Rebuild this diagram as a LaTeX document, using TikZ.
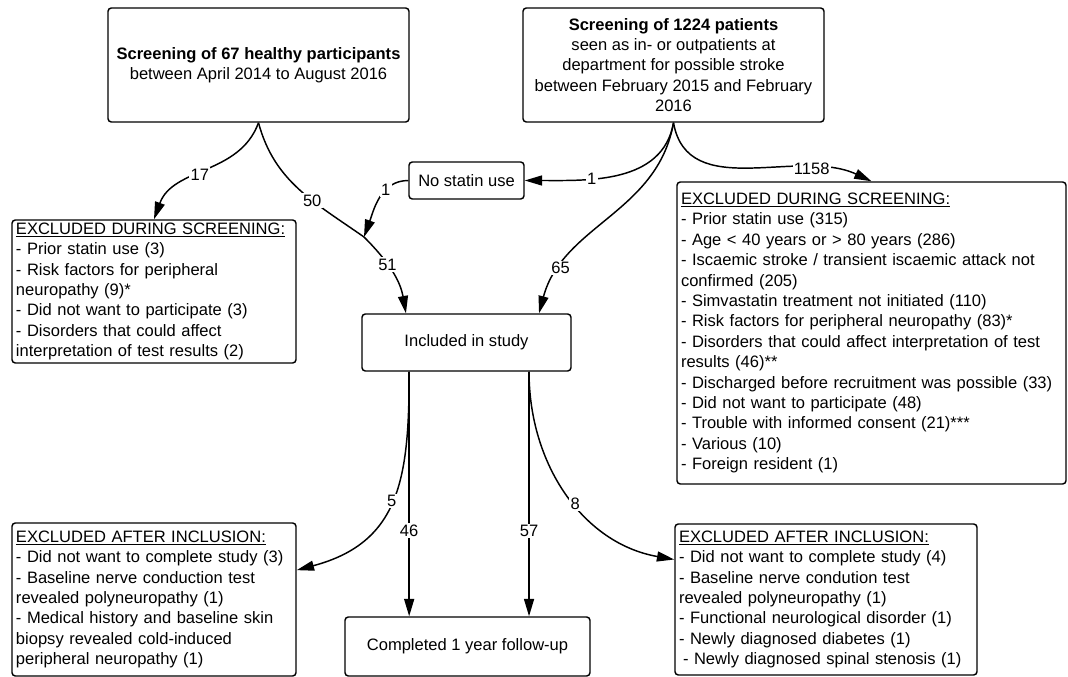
\documentclass[tikz,border=0pt]{standalone}
\usepackage{fontspec}
\setmainfont{Liberation Sans}
\usetikzlibrary{arrows.meta}

\tikzset{
	box/.style={draw, line width=1.1pt, rounded corners=2.5pt, inner sep=0pt, align=center},
	listbox/.style={box, align=left, inner xsep=3pt},
	lbl/.style={fill=white, inner sep=1pt},
	link/.style={line width=1.1pt},
	arr/.style={line width=1.1pt, -{Triangle[length=13pt,width=7.5pt]}},
}

\begin{document}
\begin{tikzpicture}[x=0.75pt, y=0.75pt, font=\fontsize{12.4}{15.3}\selectfont]
			%%%%% START %%%%%
			\useasboundingbox (0,0) rectangle (1068,-677);
			
			\node[box, minimum width=225.75pt, minimum height=85.5pt] (scrH) at (258.5,-65) {\textbf{Screening of 67 healthy participants}\\between April 2014 to August 2016};
			\node[box, minimum width=225.75pt, minimum height=85.5pt] (scrP) at (673.5,-65) {\textbf{Screening of 1224 patients}\\seen as in- or outpatients at\\department for possible stroke\\between February 2015 and February\\2016};
			
			\node[box, minimum width=86.25pt, minimum height=27.75pt] (nostat) at (466.5,-180.5) {No statin use};
			
			\node[listbox, text width=207pt, minimum height=107.25pt] (exH) at (154,-291.5) {\underline{EXCLUDED DURING SCREENING:}\\
				- Prior statin use (3)\\
				- Risk factors for peripheral\\
				neuropathy (9)*\\
				- Did not want to participate (3)\\
				- Disorders that could affect\\
				interpretation of test results (2)};
			
			\node[listbox, text width=285.75pt, minimum height=226.5pt] (exP) at (871.5,-333) {\underline{EXCLUDED DURING SCREENING:}\\
				- Prior statin use (315)\\
				- Age < 40 years or > 80 years (286)\\
				- Iscaemic stroke / transient iscaemic attack not\\
				confirmed (205)\\
				- Simvastatin treatment not initiated (110)\\
				- Risk factors for peripheral neuropathy (83)*\\
				- Disorders that could affect interpretation of test\\
				results (46)**\\
				- Discharged before recruitment was possible (33)\\
				- Did not want to participate (48)\\
				- Trouble with informed consent (21)***\\
				- Various (10)\\
				- Foreign resident (1)};
			
			\node[box, minimum width=156.75pt, minimum height=42.75pt] (incl) at (466.5,-342.5) {Included in study};
			\node[box, minimum width=183.75pt, minimum height=44.25pt] (compl) at (467.5,-646.5) {Completed 1 year follow-up};
			
			\node[listbox, text width=207pt, minimum height=114.75pt] (exAH) at (154,-599.5) {\underline{EXCLUDED AFTER INCLUSION:}\\
				- Did not want to complete study (3)\\
				- Baseline nerve conduction test\\
				revealed polyneuropathy (1)\\
				- Medical history and baseline skin\\
				biopsy revealed cold-induced\\
				peripheral neuropathy (1)};
			\node[listbox, text width=220.5pt, minimum height=113.25pt] (exAP) at (826,-599.5) {\underline{EXCLUDED AFTER INCLUSION:}\\
				- Did not want to complete study (4)\\
				- Baseline nerve condution test\\
				revealed polyneuropathy (1)\\
				- Functional neurological disorder (1)\\
				- Newly diagnosed diabetes (1)\\
				\hspace*{3pt}- Newly diagnosed spinal stenosis (1)};
			
			\coordinate (merge) at (364,-237);
			
			\draw[arr] (scrH.south) to[out=-110,in=70] node[lbl,pos=0.55]{17} (exH.north);
			\draw[link] (scrH.south) to[out=-75,in=145] node[lbl,pos=0.62]{50} (merge);
			\draw[arr] (nostat.west) to[out=180,in=70] node[lbl,pos=0.35]{1} (merge);
			\draw[arr] (merge) to[out=-45,in=100] node[lbl,pos=0.4]{51} ([xshift=-45.4pt]incl.north);
			
			\draw[arr] (scrP.south) to[out=-100,in=0] node[lbl,pos=0.65]{1} (nostat.east);
			\draw[arr] (scrP.south) to[out=-100,in=75] node[lbl,pos=0.8]{65} ([xshift=54.4pt]incl.north);
			\draw[arr] (scrP.south) to[out=-80,in=155] node[lbl,pos=0.75]{1158} (exP.north);
			
			\draw[arr] ([xshift=-43pt]incl.south) -- node[lbl,pos=0.65]{46} ([xshift=-43pt]incl.south |- compl.north);
			\draw[arr] ([xshift=46.9pt]incl.south) -- node[lbl,pos=0.65]{57} ([xshift=46.9pt]incl.south |- compl.north);
			\draw[arr] ([xshift=-43pt]incl.south) to[out=-90,in=15,looseness=1.2] node[lbl,pos=0.5]{5} ([yshift=22pt]exAH.east);
			\draw[arr] ([xshift=46.9pt]incl.south) to[out=-90,in=170] node[lbl,pos=0.55]{8} ([yshift=30pt]exAP.west);
			
			%%%%% END %%%%%
\end{tikzpicture}
\end{document}
